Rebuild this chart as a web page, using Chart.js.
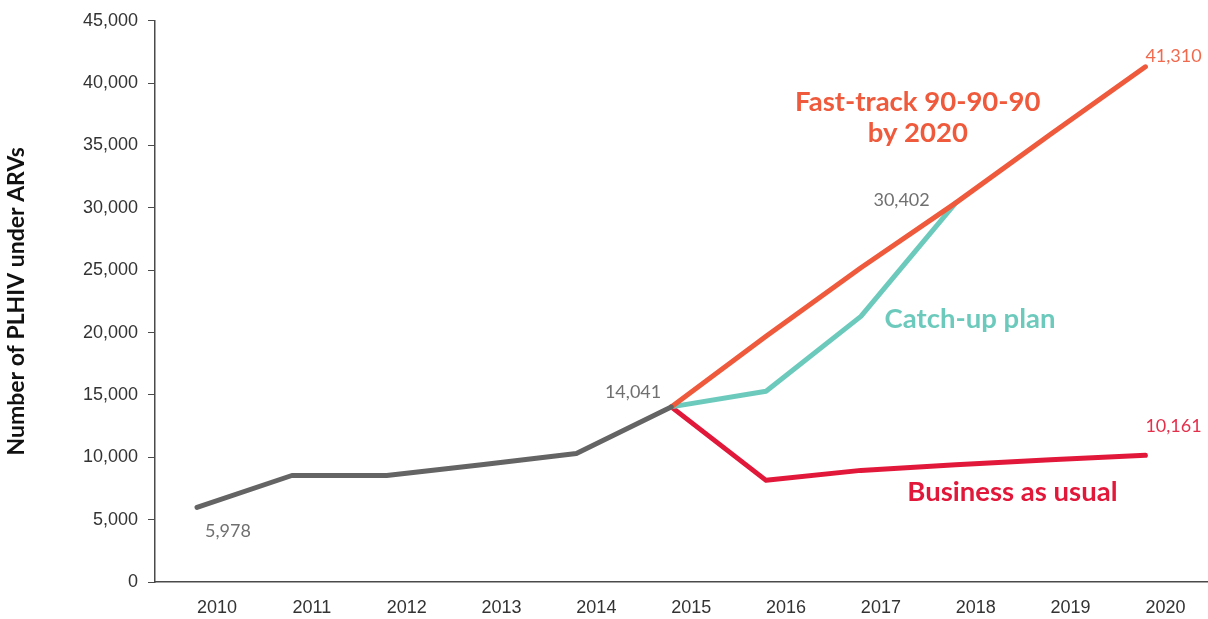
<!DOCTYPE html>
<html>
<head>
<meta charset="utf-8">
<script src="https://cdn.jsdelivr.net/npm/chart.js@4/dist/chart.umd.min.js"></script>
<style>
  html, body { margin: 0; padding: 0; background: #fff; }
  #wrap { width: 1208px; height: 619px; }
</style>
</head>
<body>
<div id="wrap"><canvas id="arvChart"></canvas></div>
<script>
// years on the x axis
const years = [2010, 2011, 2012, 2013, 2014, 2015, 2016, 2017, 2018, 2019, 2020];

// series values (null where a line does not run)
const historical = [5978, 8540, 8540, 9400, 10300, 14041, null, null, null, null, null];
const fastTrack  = [null, null, null, null, null, 14041, 19700, 25200, 30402, 35900, 41310];
const catchUp    = [null, null, null, null, null, 14041, 15300, 21300, 30402, null, null];
const business   = [null, null, null, null, null, 14041, 8150, 8950, 9400, 9800, 10161];

const yTicks = [0, 5000, 10000, 15000, 20000, 25000, 30000, 35000, 40000, 45000];

const GREY = '#646464', ORANGE = '#EF5A3C', TEAL = '#6CCABD', RED = '#E2183A';

const toPoints = arr => years.map((y, i) => ({ x: y, y: arr[i] }));

// value labels next to points, and the series names
const valueLabels = [
  { text: '5,978',  x: 2010, y: 5978,  dx: 8,   dy: 24,  align: 'left',  color: '#707070' },
  { text: '14,041', x: 2015, y: 14041, dx: -10, dy: -15, align: 'right', color: '#707070' },
  { text: '30,402', x: 2018, y: 30402, dx: -26, dy: -3,  align: 'right', color: '#707070' },
  { text: '41,310', x: 2020, y: 41310, dx: 0,   dy: -11, align: 'left',  color: '#F26A4E' },
  { text: '10,161', x: 2020, y: 10161, dx: 0,   dy: -29, align: 'left',  color: '#E5304C' }
];
const seriesNames = [
  { lines: ['Fast-track 90-90-90', 'by 2020'], x: 2017.6, y: 38460, align: 'center', color: ORANGE },
  { lines: ['Catch-up plan'], x: 2017.25, y: 21065, align: 'left', color: TEAL },
  { lines: ['Business as usual'], x: 2017.49, y: 7181, align: 'left', color: RED }
];

const labelPlugin = {
  id: 'labelPlugin',
  afterDatasetsDraw(chart) {
    const { ctx, scales: { x, y } } = chart;
    ctx.save();
    ctx.textBaseline = 'middle';
    ctx.font = '18px Lato, "Open Sans", sans-serif';
    valueLabels.forEach(l => {
      ctx.fillStyle = l.color;
      ctx.textAlign = l.align;
      ctx.fillText(l.text, x.getPixelForValue(l.x) + l.dx, y.getPixelForValue(l.y) + l.dy);
    });
    ctx.font = 'bold 27.5px Lato, "Open Sans", sans-serif';
    seriesNames.forEach(s => {
      ctx.fillStyle = s.color;
      ctx.textAlign = s.align;
      s.lines.forEach((t, i) => {
        ctx.fillText(t, x.getPixelForValue(s.x), y.getPixelForValue(s.y) + i * 31);
      });
    });
    ctx.restore();
  }
};

const lineStyle = color => ({
  borderColor: color,
  backgroundColor: color,
  borderWidth: 5,
  pointRadius: 0,
  tension: 0,
  borderCapStyle: 'round',
  borderJoinStyle: 'round',
  spanGaps: false
});

const ctx = document.getElementById('arvChart').getContext('2d');
new Chart(ctx, {
  type: 'line',
  data: {
    datasets: [
      { label: 'Historical', data: toPoints(historical), ...lineStyle(GREY) },
      { label: 'Fast-track 90-90-90 by 2020', data: toPoints(fastTrack), ...lineStyle(ORANGE) },
      { label: 'Catch-up plan', data: toPoints(catchUp), ...lineStyle(TEAL) },
      { label: 'Business as usual', data: toPoints(business), ...lineStyle(RED) }
    ]
  },
  options: {
    responsive: true,
    maintainAspectRatio: false,
    animation: false,
    layout: { padding: { top: 18, right: 0, bottom: 0, left: 0 } },
    plugins: {
      legend: { display: false },
      tooltip: { enabled: false }
    },
    scales: {
      x: {
        type: 'linear',
        min: 2009.557,
        max: 2020.66,
        afterBuildTicks: s => { s.ticks = years.map(v => ({ value: v })); },
        afterFit: s => { s.height = 37; },
        grid: { drawOnChartArea: false, drawTicks: false },
        border: { display: true, color: '#4a4a4a', width: 1.5 },
        ticks: {
          padding: 15,
          labelOffset: 20,
          maxRotation: 0,
          autoSkip: false,
          color: '#333',
          font: { family: '"Liberation Sans", Arial, sans-serif', size: 18 },
          callback: v => String(v)
        }
      },
      y: {
        min: 0,
        max: 45000,
        afterBuildTicks: s => { s.ticks = yTicks.map(v => ({ value: v })); },
        afterFit: s => { s.width = 155; },
        grid: { drawOnChartArea: false, drawTicks: true, tickLength: 7, color: '#4a4a4a', lineWidth: 1 },
        border: { display: true, color: '#4a4a4a', width: 1.5 },
        ticks: {
          padding: 10,
          color: '#333',
          font: { family: '"Liberation Sans", Arial, sans-serif', size: 18 },
          callback: v => v.toLocaleString('en-US')
        },
        title: {
          display: true,
          text: 'Number of PLHIV under ARVs',
          color: '#111',
          padding: { top: 3, bottom: 0 },
          font: { family: 'Lato, "Open Sans", sans-serif', size: 23, weight: 'bold' }
        }
      }
    }
  },
  plugins: [labelPlugin]
});
</script>
</body>
</html>
